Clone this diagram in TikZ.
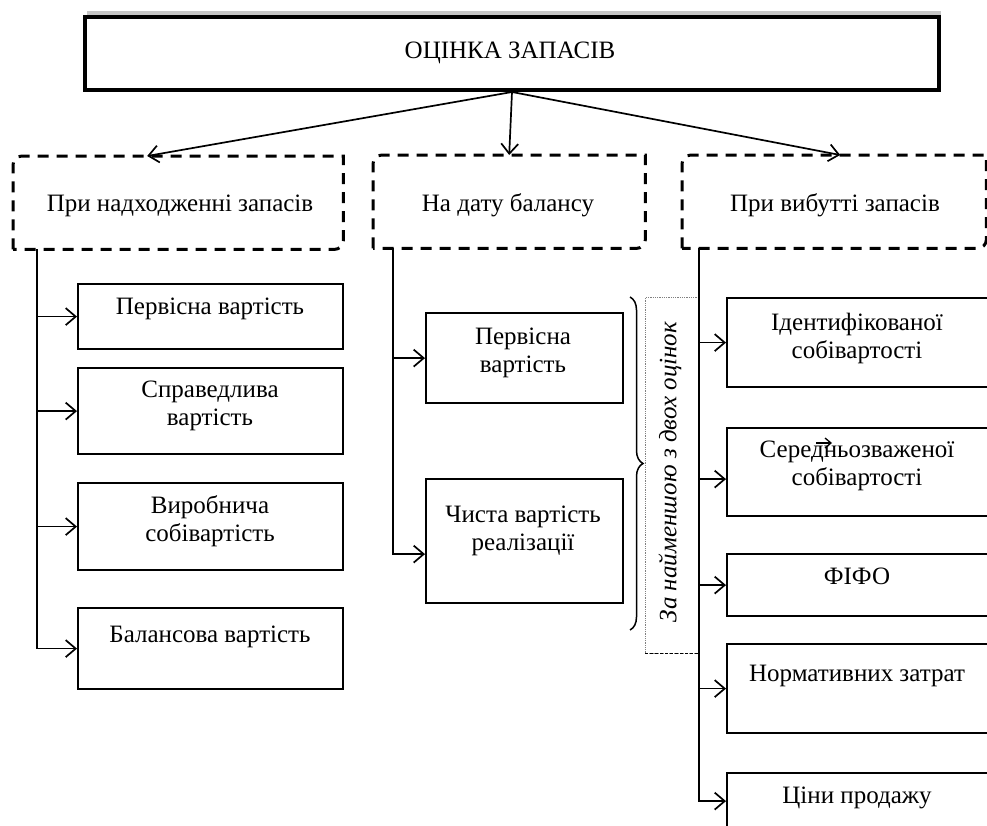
\documentclass[tikz,border=0pt]{standalone}
\usepackage{fontspec}
\setmainfont{Liberation Serif}
\usetikzlibrary{arrows.meta,decorations.pathreplacing}

% frame with the top-left and bottom-right corners rounded
\newcommand\cutframe[1]{%
  \draw[dashbox] (#1.south west) -- ([yshift=-9pt]#1.north west)
    arc[start angle=180,end angle=90,radius=9pt] -- (#1.north east)
    -- ([yshift=9pt]#1.south east)
    arc[start angle=0,end angle=-90,radius=9pt] -- cycle;}

\begin{document}
\begin{tikzpicture}[x=1pt,y=-1pt,
  font=\fontsize{25}{28}\selectfont,
  conn/.style={line width=1.7pt,-{Straight Barb[length=10pt,width=17pt]}},
  valbox/.style={draw,line width=2.2pt,anchor=north west,inner sep=0pt},
  lbl/.style={anchor=base,align=center,inner sep=0pt},
  dashbox/.style={line width=3pt,dash pattern=on 11pt off 8pt},
  frame/.style={inner sep=0pt,anchor=north west}]
\useasboundingbox (0,0) rectangle (987,825);
\clip (0,0) rectangle (987,825);

% heading block with its shadow
\fill[gray!45] (87,11) rectangle (941,84);
\node[valbox,line width=4pt,fill=white,minimum width=854pt,minimum height=73pt] (top) at (83,15) {};
\node[lbl] (toptxt) at (510,58) {ОЦІНКА ЗАПАСІВ};

% three dashed group frames
\node[frame,minimum width=330pt,minimum height=93pt] (d1) at (13,156) {};
\node[frame,minimum width=272pt,minimum height=93pt] (d2) at (373,155) {};
\node[frame,minimum width=304pt,minimum height=93pt] (d3) at (682,155) {};
\cutframe{d1}
\cutframe{d2}
\cutframe{d3}
\node[lbl] (d1t) at (180,211) {При надходженні запасів};
\node[lbl] (d2t) at (508,211) {На дату балансу};
\node[lbl] (d3t) at (835,211) {При вибутті запасів};

\draw[conn] (top.south) -- ([xshift=-31pt]d1.north);
\draw[conn] (top.south) -- (d2.north);
\draw[conn] (top.south) -- ([xshift=6pt]d3.north);

% left column (two-line labels are placed by their last baseline)
\node[valbox,minimum width=265pt,minimum height=65pt] (a1) at (77,283) {};
\node[valbox,minimum width=265pt,minimum height=86pt] (a2) at (77,367) {};
\node[valbox,minimum width=265pt,minimum height=87pt] (a3) at (77,482) {};
\node[valbox,minimum width=265pt,minimum height=81pt] (a4) at (77,607) {};
\node[lbl] (a1t) at (210,314) {Первісна вартість};
\node[lbl] (a2t) at (210,425) {Справедлива\\вартість};
\node[lbl] (a3t) at (210,541) {Виробнича\\собівартість};
\node[lbl] (a4t) at (210,642) {Балансова вартість};
\coordinate (ltop) at (37,249);
\draw[conn] (ltop |- a1.west) -- (a1.west);
\draw[conn] (ltop |- a2.west) -- (a2.west);
\draw[conn] (ltop |- a3.west) -- (a3.west);
\draw[conn] (ltop) -- (ltop |- a4.west) -- (a4.west);

% middle column
\node[valbox,minimum width=197pt,minimum height=90pt] (m1) at (425,312) {};
\node[valbox,minimum width=197pt,minimum height=124pt] (m2) at (425,478) {};
\node[lbl] (m1t) at (523,372) {Первісна\\вартість};
\node[lbl] (m2t) at (523,550) {Чиста вартість\\реалізації};
\coordinate (mtop) at (393,248);
\coordinate (m2in) at ([yshift=-13pt]m2.west);
\draw[conn] (mtop |- m1.west) -- (m1.west);
\draw[conn] (mtop) -- (mtop |- m2in) -- (m2in);

% brace and the note beside it
\draw[line width=1.5pt,decorate,decoration={brace,amplitude=13pt}] (630,297) -- (630,630);
\node[frame,draw=gray,densely dotted,line width=0.8pt,minimum width=54pt,minimum height=356pt] (note) at (645,297) {};
\draw[densely dashed,line width=0.9pt] (note.south west) -- (note.south east);
\node[rotate=90,inner sep=0pt] (notet) at (670,472) {\itshape За найменшою з двох оцінок};

% right column
\node[valbox,minimum width=300pt,minimum height=89pt] (r1) at (726,297) {};
\node[valbox,minimum width=300pt,minimum height=88pt] (r2) at (726,427) {};
\node[valbox,minimum width=300pt,minimum height=62pt] (r3) at (726,553) {};
\node[valbox,minimum width=300pt,minimum height=89pt] (r4) at (726,643) {};
\node[valbox,minimum width=300pt,minimum height=56pt] (r5) at (726,772) {};
\node[lbl] (r1t) at (857,358) {Ідентифікованої\\собівартості};
\node[lbl] (r2t) at (857,485) {Середньозваженої\\собівартості};
\node[lbl] (r3t) at (857,584) {ФІФО};
\node[lbl] (r4t) at (857,681) {Нормативних затрат};
\node[lbl] (r5t) at (857,803) {Ціни продажу};
\coordinate (rtop) at (699,248);
\coordinate (r2in) at ([yshift=-7pt]r2.west);
\draw[conn] (rtop |- r1.west) -- (r1.west);
\draw[conn] (rtop |- r2in) -- (r2in);
\draw[conn] (rtop |- r3.west) -- (r3.west);
\draw[conn] (rtop |- r4.west) -- (r4.west);
\draw[conn] (rtop) -- (rtop |- r5.west) -- (r5.west);

% short arrow lying over the second right label
\coordinate (s1) at (816,443);
\coordinate (s2) at (832,443);
\draw[line width=1.3pt,-{Straight Barb[length=6pt,width=10pt]}] (s1) -- (s2);
\end{tikzpicture}
\end{document}
